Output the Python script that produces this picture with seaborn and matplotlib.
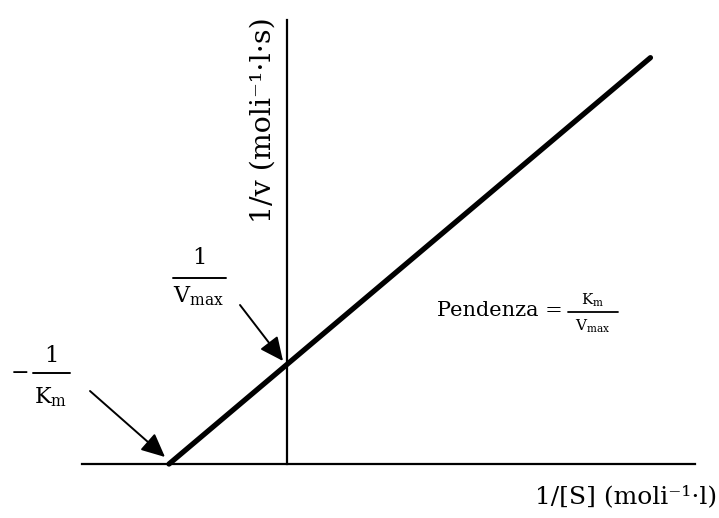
import matplotlib
matplotlib.use("Agg")
import matplotlib.pyplot as plt
from matplotlib.lines import Line2D
import numpy as np
import pandas as pd
import seaborn as sns

# Lineweaver-Burk line: x-intercept -1/Km, y-intercept 1/Vmax (normalised units)
inv_S = [-1.0, 3.08]
inv_v = [0.0, 4.08]

x_label = "1/[S] (moli\u207b\u00b9\u00b7l)"
y_label = "1/v (moli\u207b\u00b9\u00b7l\u00b7s)"
slope_text = "Pendenza ="
km_text = r"$\mathregular{K_m}$"
vmax_text = r"$\mathregular{V_{max}}$"

sns.set_theme(style="white")
plt.rcParams["font.family"] = ["DejaVu Serif"]
plt.rcParams["mathtext.fontset"] = "dejavuserif"

W, H = 719, 518
fig = plt.figure(figsize=(W / 100, H / 100), dpi=100)
ax = fig.add_axes([0, 0, 1, 1])


def px(x, y):
    """Pixel position (from top-left) -> figure fraction."""
    return (x / W, 1 - y / H)


df = pd.DataFrame({"inv_S": inv_S, "inv_v": inv_v})
sns.lineplot(data=df, x="inv_S", y="inv_v", color="black", lw=3.8,
             solid_capstyle="round", ax=ax)

ax.set_xlim(-2.432, 3.661)
ax.set_ylim(-0.542, 4.659)
ax.set_xticks([])
ax.set_yticks([])
ax.set_xlabel("")
ax.set_ylabel("")

for side in ("top", "right"):
    ax.spines[side].set_visible(False)
ax.spines["bottom"].set_position(("data", 0))
ax.spines["bottom"].set_bounds(-1.737, 3.458)
ax.spines["left"].set_position(("data", 0))
ax.spines["left"].set_bounds(0, 4.458)
for side in ("bottom", "left"):
    ax.spines[side].set_color("black")
    ax.spines[side].set_linewidth(1.6)


def bar(x0, x1, y, lw=1.4):
    a, b = px(x0, y), px(x1, y)
    fig.add_artist(Line2D([a[0], b[0]], [a[1], b[1]], transform=fig.transFigure,
                          color="black", lw=lw))


def txt(x, y, s, size, ha="center", va="center", **kw):
    fig.text(*px(x, y), s, fontsize=size, ha=ha, va=va, color="black", **kw)


# axis titles
txt(717, 497, x_label, 18, ha="right")
txt(263, 120, y_label, 20.5, rotation=90)

# 1/Vmax
txt(199, 258, "1", 16.5)
bar(173, 226, 278)
txt(199, 296, vmax_text, 16)

# -1/Km
txt(20, 373, "\u2212", 16)
txt(51, 356, "1", 16.5)
bar(33, 70, 373)
txt(51, 397, km_text, 16)

# slope
txt(437, 310, slope_text, 15, ha="left")
txt(593, 300, km_text, 11)
bar(568, 618, 312, lw=1.3)
txt(593, 326, vmax_text, 11)

arrow = dict(arrowstyle="-|>,head_length=0.6,head_width=0.28", color="black",
             lw=1.4, mutation_scale=24, shrinkA=0, shrinkB=0)
ax.annotate("", xy=px(165, 457), xytext=px(90, 391),
            xycoords="figure fraction", textcoords="figure fraction", arrowprops=arrow)
ax.annotate("", xy=px(283, 361), xytext=px(240, 305),
            xycoords="figure fraction", textcoords="figure fraction", arrowprops=arrow)

fig.savefig("out.png", dpi=100, facecolor="white")
